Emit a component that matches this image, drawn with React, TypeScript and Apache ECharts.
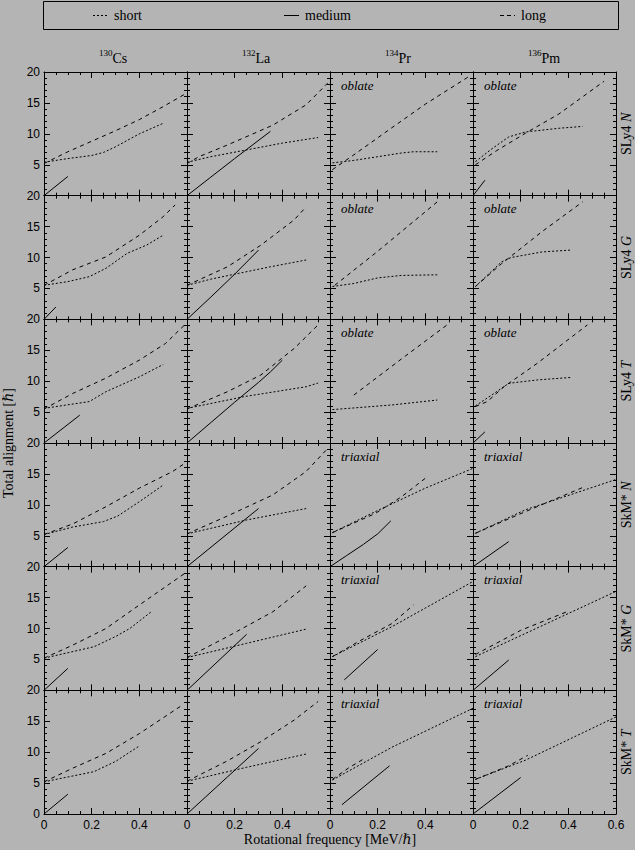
import React, { useEffect, useRef } from 'react';
import * as echarts from 'echarts';

// ---- labels ----
const massNumbers = ['130', '132', '134', '136'];
const elements = ['Cs', 'La', 'Pr', 'Pm'];
const forces = ['SLy4', 'SLy4', 'SLy4', 'SkM*', 'SkM*', 'SkM*'];
const pairings = ['N', 'G', 'T', 'N', 'G', 'T'];
const shapeNotes = ['oblate', 'oblate', 'oblate', 'triaxial', 'triaxial', 'triaxial'];
const legendNames = ['short', 'medium', 'long'];
const xTickValues = [0, 0.2, 0.4, 0.6];
const yTickValues = [0, 5, 10, 15, 20];

// ---- data: [rotational frequency, total alignment] ----
// SLy4 N
const csSly4N_short = [[0, 5.4], [0.1, 6.0], [0.2, 6.5], [0.25, 7.0], [0.3, 7.9], [0.4, 10.0], [0.5, 11.7]];
const csSly4N_medium = [[0, 0], [0.1, 3.1]];
const csSly4N_long = [[0, 5.2], [0.1, 7.1], [0.2, 8.8], [0.3, 10.5], [0.4, 12.3], [0.5, 14.4], [0.59, 16.4]];
const laSly4N_short = [[0, 5.4], [0.1, 6.3], [0.25, 7.4], [0.4, 8.5], [0.55, 9.4]];
const laSly4N_medium = [[0, 0], [0.1, 3.0], [0.2, 6.0], [0.35, 10.4]];
const laSly4N_long = [[0, 5.2], [0.05, 6.3], [0.17, 8.2], [0.36, 11.4], [0.5, 14.7], [0.59, 18.2]];
const prSly4N_short = [[0.01, 5.3], [0.1, 5.7], [0.2, 6.3], [0.3, 6.9], [0.35, 7.1], [0.45, 7.1]];
const prSly4N_medium: number[][] = [];
const prSly4N_long = [[0.01, 4.2], [0.1, 6.6], [0.26, 11.0], [0.4, 14.8], [0.58, 19.2]];
const pmSly4N_short = [[0.01, 5.5], [0.08, 7.6], [0.15, 9.5], [0.22, 10.3], [0.36, 10.9], [0.46, 11.2]];
const pmSly4N_medium = [[0, 0], [0.05, 2.5]];
const pmSly4N_long = [[0.01, 5.0], [0.1, 7.3], [0.22, 10.1], [0.36, 13.2], [0.55, 18.5]];
// SLy4 G
const csSly4G_short = [[0, 5.5], [0.1, 6.1], [0.19, 6.9], [0.26, 8.25], [0.35, 10.7], [0.43, 12.0], [0.5, 13.6]];
const csSly4G_medium = [[0, 0], [0.05, 2.0]];
const csSly4G_long = [[0, 5.5], [0.12, 8.0], [0.26, 10.1], [0.4, 13.6], [0.5, 16.6], [0.55, 18.5]];
const laSly4G_short = [[0, 5.5], [0.1, 6.5], [0.2, 7.3], [0.35, 8.5], [0.5, 9.6]];
const laSly4G_medium = [[0, 0], [0.1, 3.6], [0.2, 7.3], [0.3, 11.2]];
const laSly4G_long = [[0, 5.5], [0.17, 8.5], [0.31, 12.0], [0.45, 16.1], [0.5, 18.2]];
const prSly4G_short = [[0.01, 5.3], [0.1, 5.8], [0.2, 6.7], [0.3, 7.1], [0.45, 7.2]];
const prSly4G_medium: number[][] = [];
const prSly4G_long = [[0.02, 5.5], [0.2, 11.0], [0.45, 19.0]];
const pmSly4G_short = [[0.01, 5.3], [0.12, 9.3], [0.16, 10.0], [0.29, 10.9], [0.41, 11.2]];
const pmSly4G_medium: number[][] = [];
const pmSly4G_long = [[0.01, 5.3], [0.12, 9.0], [0.29, 14.2], [0.46, 19.0]];
// SLy4 T
const csSly4T_short = [[0, 5.6], [0.19, 6.7], [0.26, 8.3], [0.4, 10.7], [0.5, 12.7]];
const csSly4T_medium = [[0, 0], [0.15, 4.5]];
const csSly4T_long = [[0, 5.5], [0.12, 8.0], [0.26, 10.5], [0.4, 13.4], [0.51, 16.1], [0.59, 19.1]];
const laSly4T_short = [[0, 5.6], [0.24, 7.5], [0.5, 9.1], [0.55, 9.7]];
const laSly4T_medium = [[0, 0], [0.1, 3.3], [0.2, 6.6], [0.3, 9.8], [0.35, 11.5], [0.4, 13.4]];
const laSly4T_long = [[0, 5.5], [0.17, 8.3], [0.31, 11.0], [0.45, 15.3], [0.55, 19.1]];
const prSly4T_short = [[0.01, 5.4], [0.26, 6.15], [0.45, 6.95]];
const prSly4T_medium: number[][] = [];
const prSly4T_long = [[0.1, 7.75], [0.3, 13.6], [0.5, 19.35]];
const pmSly4T_short = [[0.01, 6.0], [0.08, 7.8], [0.15, 9.65], [0.27, 10.2], [0.41, 10.6]];
const pmSly4T_medium = [[0, 0], [0.05, 1.8]];
const pmSly4T_long = [[0.01, 5.9], [0.06, 6.7], [0.13, 9.1], [0.27, 12.9], [0.48, 19.1]];
// SkM* N
const csSkmN_short = [[0, 5.2], [0.12, 6.4], [0.25, 7.3], [0.31, 8.2], [0.4, 10.5], [0.5, 13.2]];
const csSkmN_medium = [[0, 0], [0.1, 3.1]];
const csSkmN_long = [[0, 5.2], [0.12, 6.9], [0.26, 9.7], [0.4, 12.7], [0.54, 15.4], [0.59, 16.7]];
const laSkmN_short = [[0, 5.3], [0.25, 7.55], [0.5, 9.4]];
const laSkmN_medium = [[0, 0], [0.3, 9.4]];
const laSkmN_long = [[0, 5.3], [0.17, 8.2], [0.36, 11.6], [0.5, 15.4], [0.59, 19.1]];
const prSkmN_short = [[0.01, 5.5], [0.19, 8.9], [0.4, 12.7], [0.6, 15.9]];
const prSkmN_medium = [[0, 0], [0.07, 1.8], [0.14, 3.6], [0.2, 5.3], [0.255, 7.4]];
const prSkmN_long = [[0.01, 5.5], [0.19, 8.6], [0.3, 11.3], [0.4, 14.3]];
const pmSkmN_short = [[0.01, 5.4], [0.22, 9.2], [0.6, 14.1]];
const pmSkmN_medium = [[0, 0], [0.15, 4.05]];
const pmSkmN_long = [[0.01, 5.4], [0.22, 8.9], [0.46, 12.8]];
// SkM* G
const csSkmG_short = [[0, 5.2], [0.21, 7.05], [0.3, 8.7], [0.36, 10.0], [0.45, 12.7]];
const csSkmG_medium = [[0, 0], [0.1, 3.55]];
const csSkmG_long = [[0, 5.2], [0.12, 7.3], [0.26, 10.0], [0.4, 13.8], [0.59, 18.9]];
const laSkmG_short = [[0, 5.3], [0.25, 7.6], [0.5, 9.9]];
const laSkmG_medium = [[0, 0], [0.25, 9.05]];
const laSkmG_long = [[0, 5.3], [0.17, 8.7], [0.36, 12.7], [0.5, 16.9]];
const prSkmG_short = [[0.01, 5.45], [0.26, 10.3], [0.6, 17.6]];
const prSkmG_medium = [[0.06, 1.7], [0.2, 6.6]];
const prSkmG_long = [[0.01, 5.45], [0.12, 7.9], [0.26, 10.8], [0.35, 13.8]];
const pmSkmG_short = [[0.01, 5.45], [0.22, 9.2], [0.6, 16.0]];
const pmSkmG_medium = [[0, 0], [0.15, 4.9]];
const pmSkmG_long = [[0.01, 5.8], [0.2, 9.7], [0.4, 12.8]];
// SkM* T
const csSkmT_short = [[0, 5.2], [0.21, 6.85], [0.3, 8.5], [0.4, 11.0]];
const csSkmT_medium = [[0, 0], [0.1, 3.2]];
const csSkmT_long = [[0, 5.2], [0.12, 7.4], [0.26, 9.8], [0.4, 13.0], [0.58, 17.6]];
const laSkmT_short = [[0, 5.3], [0.25, 7.55], [0.5, 9.7]];
const laSkmT_medium = [[0, 0], [0.3, 10.6]];
const laSkmT_long = [[0, 5.3], [0.17, 8.6], [0.31, 11.7], [0.45, 15.2], [0.55, 18.2]];
const prSkmT_short = [[0.01, 5.5], [0.26, 10.8], [0.6, 17.1]];
const prSkmT_medium = [[0.05, 1.5], [0.25, 7.8]];
const prSkmT_long = [[0.01, 5.6], [0.08, 7.5], [0.15, 9.1]];
const pmSkmT_short = [[0.01, 5.6], [0.22, 8.7], [0.6, 15.7]];
const pmSkmT_medium = [[0, 0], [0.2, 5.9]];
const pmSkmT_long = [[0.01, 5.6], [0.15, 7.8], [0.23, 9.5]];

// rows x cols, each [short, medium, long]
const panelData: number[][][][][] = [
  [[csSly4N_short, csSly4N_medium, csSly4N_long], [laSly4N_short, laSly4N_medium, laSly4N_long], [prSly4N_short, prSly4N_medium, prSly4N_long], [pmSly4N_short, pmSly4N_medium, pmSly4N_long]],
  [[csSly4G_short, csSly4G_medium, csSly4G_long], [laSly4G_short, laSly4G_medium, laSly4G_long], [prSly4G_short, prSly4G_medium, prSly4G_long], [pmSly4G_short, pmSly4G_medium, pmSly4G_long]],
  [[csSly4T_short, csSly4T_medium, csSly4T_long], [laSly4T_short, laSly4T_medium, laSly4T_long], [prSly4T_short, prSly4T_medium, prSly4T_long], [pmSly4T_short, pmSly4T_medium, pmSly4T_long]],
  [[csSkmN_short, csSkmN_medium, csSkmN_long], [laSkmN_short, laSkmN_medium, laSkmN_long], [prSkmN_short, prSkmN_medium, prSkmN_long], [pmSkmN_short, pmSkmN_medium, pmSkmN_long]],
  [[csSkmG_short, csSkmG_medium, csSkmG_long], [laSkmG_short, laSkmG_medium, laSkmG_long], [prSkmG_short, prSkmG_medium, prSkmG_long], [pmSkmG_short, pmSkmG_medium, pmSkmG_long]],
  [[csSkmT_short, csSkmT_medium, csSkmT_long], [laSkmT_short, laSkmT_medium, laSkmT_long], [prSkmT_short, prSkmT_medium, prSkmT_long], [pmSkmT_short, pmSkmT_medium, pmSkmT_long]],
];

const BG = '#b4b4b4';
const INK = '#000000';
const SERIF = '"Liberation Serif", "DejaVu Serif", serif';
const SANS = '"Liberation Sans", Arial, sans-serif';
const dashFor = (k: number): any => (k === 0 ? [2, 2] : k === 1 ? 'solid' : [4, 4]);

const LEFT = 44;
const TOP = 72;
const PW = 143;
const PH = 742 / 6;

function txt(text: string, size: number, opts: any = {}) {
  return {
    text, fill: INK, fontSize: size, fontFamily: SERIF, fontWeight: 'normal', fontStyle: 'normal',
    textAlign: 'left', textVerticalAlign: 'middle', ...opts,
  };
}

function buildOption() {
  const grids: any[] = [];
  const xAxes: any[] = [];
  const yAxes: any[] = [];
  const series: any[] = [];
  const graphics: any[] = [];
  const nRows = forces.length;
  const nCols = elements.length;
  const axisLine = { show: true, onZero: false, lineStyle: { color: INK, width: 1 } };
  for (let r = 0; r < nRows; r++) {
    for (let c = 0; c < nCols; c++) {
      const gi = grids.length;
      grids.push({ left: LEFT + c * PW, top: TOP + r * PH, width: PW, height: PH, containLabel: false, outerBoundsMode: 'none', show: false });
      const xBase = {
        type: 'value', gridIndex: gi, min: xTickValues[0], max: xTickValues[xTickValues.length - 1], interval: 0.2,
        axisLine, splitLine: { show: false },
        axisTick: { show: true, inside: true, length: 6, lineStyle: { color: INK, width: 1 } },
        minorTick: { show: true, splitNumber: 4, length: 3, lineStyle: { color: INK, width: 1 } },
      };
      xAxes.push({
        ...xBase, position: 'bottom',
        axisLabel: {
          show: r === nRows - 1, color: INK, fontSize: 12, fontFamily: SANS, margin: 5,
          formatter: (v: number) => (v > 0.55 && c < nCols - 1 ? '' : v === 0 ? '0' : v.toFixed(1)),
        },
      });
      xAxes.push({ ...xBase, position: 'top', axisLabel: { show: false } });
      const yBase = {
        type: 'value', gridIndex: gi, min: yTickValues[0], max: yTickValues[yTickValues.length - 1], interval: 5,
        axisLine, splitLine: { show: false },
        axisTick: { show: true, inside: true, length: 6, lineStyle: { color: INK, width: 1 } },
        minorTick: { show: true, splitNumber: 5, length: 3, lineStyle: { color: INK, width: 1 } },
      };
      yAxes.push({
        ...yBase, position: 'left',
        axisLabel: {
          show: c === 0, color: INK, fontSize: 12, fontFamily: SANS, margin: 4,
          formatter: (v: number) => (v === 0 && r < nRows - 1 ? '' : String(v)),
        },
      });
      yAxes.push({ ...yBase, position: 'right', axisLabel: { show: false } });
      const sets = panelData[r][c];
      sets.forEach((d, k) => {
        if (!d.length) return;
        series.push({
          type: 'line', name: legendNames[k], xAxisIndex: 2 * gi, yAxisIndex: 2 * gi,
          data: d, showSymbol: false, symbol: 'none', silent: true, clip: true,
          lineStyle: { color: INK, width: 1, type: dashFor(k) },
        });
      });
      if (c >= 2) {
        graphics.push({
          type: 'text', x: LEFT + c * PW + 11, y: TOP + r * PH + 13,
          style: {
            text: `{i|${shapeNotes[r]}}`, fill: INK, textAlign: 'left', textVerticalAlign: 'middle',
            rich: { i: { fontSize: 13, fontFamily: SERIF, fontStyle: 'italic', fontWeight: 'normal', fill: INK } },
          },
        });
      }
    }
  }
  // column titles
  for (let c = 0; c < nCols; c++) {
    const cx = LEFT + c * PW + PW / 2 - 3;
    graphics.push({ type: 'text', x: cx, y: 53, style: txt(massNumbers[c], 9, { textAlign: 'right' }) });
    graphics.push({ type: 'text', x: cx, y: 58, style: txt(elements[c], 14) });
  }
  // row labels (right side, rotated)
  for (let r = 0; r < nRows; r++) {
    graphics.push({
      type: 'text', x: 626, y: TOP + r * PH + PH / 2, rotation: Math.PI / 2,
      style: {
        text: `{a|${forces[r]} }{b|${pairings[r]}}`, fill: INK, textAlign: 'center', textVerticalAlign: 'middle',
        rich: {
          a: { fontSize: 14, fontFamily: SERIF, fontWeight: 'normal', fill: INK },
          b: { fontSize: 14, fontFamily: SERIF, fontStyle: 'italic', fontWeight: 'normal', fill: INK },
        },
      },
    });
  }
  // axis titles
  graphics.push({ type: 'text', x: 8, y: 443, rotation: Math.PI / 2, style: txt('Total alignment [ℏ]', 14, { textAlign: 'center' }) });
  graphics.push({ type: 'text', x: 330, y: 839, style: txt('Rotational frequency [MeV/ℏ]', 14, { textAlign: 'center' }) });
  // legend
  graphics.push({ type: 'rect', shape: { x: 43.5, y: 1.5, width: 575, height: 28 }, style: { fill: 'none', stroke: INK, lineWidth: 1 } });
  const legendSampleX = [93, 284, 500];
  legendNames.forEach((name, k) => {
    const x0 = legendSampleX[k];
    graphics.push({ type: 'line', shape: { x1: x0, y1: 15.5, x2: x0 + 15, y2: 15.5 }, style: { stroke: INK, lineWidth: 1, lineDash: k === 1 ? null : k === 0 ? [2, 2] : [4, 3] } });
    graphics.push({ type: 'text', x: x0 + 21, y: 15, style: txt(name, 14) });
  });

  return {
    animation: false,
    backgroundColor: BG,
    grid: grids,
    xAxis: xAxes,
    yAxis: yAxes,
    series,
    graphic: { elements: graphics },
  };
}

export default function App() {
  const ref = useRef<HTMLDivElement>(null);
  useEffect(() => {
    if (!ref.current) return;
    const chart = echarts.init(ref.current, null, { renderer: 'svg' });
    chart.setOption(buildOption() as any);
    return () => chart.dispose();
  }, []);
  return <div ref={ref} style={{ position: 'absolute', left: 0, top: 0, width: 635, height: 850, background: BG }} />;
}
